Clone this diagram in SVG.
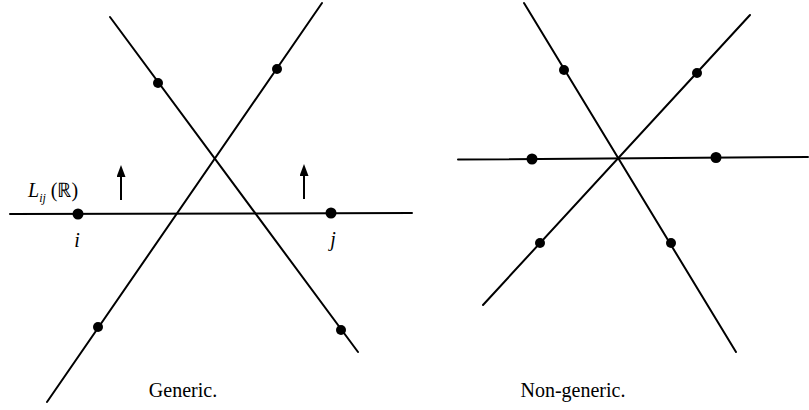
<svg xmlns="http://www.w3.org/2000/svg" width="809" height="410" viewBox="0 0 809 410">
<style>
.ln{stroke:#000;stroke-width:2;fill:none;stroke-linecap:round}
.pt{fill:#000}
.ar{stroke:#000;stroke-width:2;fill:none}
.tx{font-family:"Liberation Serif","Times New Roman",serif;fill:#000}
.it{font-style:italic}
</style>
<defs>
<marker id="ah" viewBox="0 0 12 9" refX="6" refY="4.5" markerWidth="12" markerHeight="9" markerUnits="userSpaceOnUse" orient="auto">
<path d="M0,0 L12,4.5 L0,9 Z" fill="#000"/>
</marker>
</defs>
<rect width="809" height="410" fill="#fff"/>
<g id="connectors">
<!-- Generic -->
<line class="ln" x1="10" y1="214" x2="412" y2="213"/>
<line class="ln" x1="110" y1="17" x2="358" y2="352"/>
<line class="ln" x1="47" y1="402" x2="322" y2="3"/>
<!-- Non-generic -->
<line class="ln" x1="458" y1="159.5" x2="808" y2="157"/>
<line class="ln" x1="524" y1="3" x2="736" y2="352"/>
<line class="ln" x1="483" y1="305" x2="750" y2="15"/>
<!-- arrows -->
<line class="ar" x1="121" y1="200" x2="121" y2="171" marker-end="url(#ah)"/>
<line class="ar" x1="304" y1="199" x2="304" y2="170" marker-end="url(#ah)"/>
</g>
<g id="point-i"><circle class="pt" cx="78" cy="214" r="5.5"/><text class="tx it" x="77" y="247" font-size="20" text-anchor="middle">i</text></g>
<g id="point-j"><circle class="pt" cx="331" cy="213" r="5.5"/><text class="tx it" x="333" y="246" font-size="20" text-anchor="middle">j</text></g>
<g id="point-g1"><circle class="pt" cx="158" cy="83" r="5"/></g>
<g id="point-g2"><circle class="pt" cx="341" cy="330" r="5"/></g>
<g id="point-g3"><circle class="pt" cx="277" cy="69" r="5"/></g>
<g id="point-g4"><circle class="pt" cx="98" cy="327" r="5"/></g>
<g id="point-n1"><circle class="pt" cx="532" cy="159" r="5.5"/></g>
<g id="point-n2"><circle class="pt" cx="716" cy="157.5" r="5.5"/></g>
<g id="point-n3"><circle class="pt" cx="564" cy="70" r="5"/></g>
<g id="point-n4"><circle class="pt" cx="671" cy="243" r="5"/></g>
<g id="point-n5"><circle class="pt" cx="697" cy="73" r="5"/></g>
<g id="point-n6"><circle class="pt" cx="540" cy="243" r="5"/></g>
<g id="label-L">
<text class="tx" x="28" y="197" font-size="20"><tspan class="it">L</tspan><tspan class="it" font-size="12" dy="5">ij</tspan><tspan dy="-5" dx="5">(ℝ)</tspan></text>
</g>
<g id="captions">
<text class="tx" x="183" y="397" font-size="20" text-anchor="middle">Generic.</text>
<text class="tx" x="573" y="397" font-size="20" text-anchor="middle">Non-generic.</text>
</g>
</svg>
